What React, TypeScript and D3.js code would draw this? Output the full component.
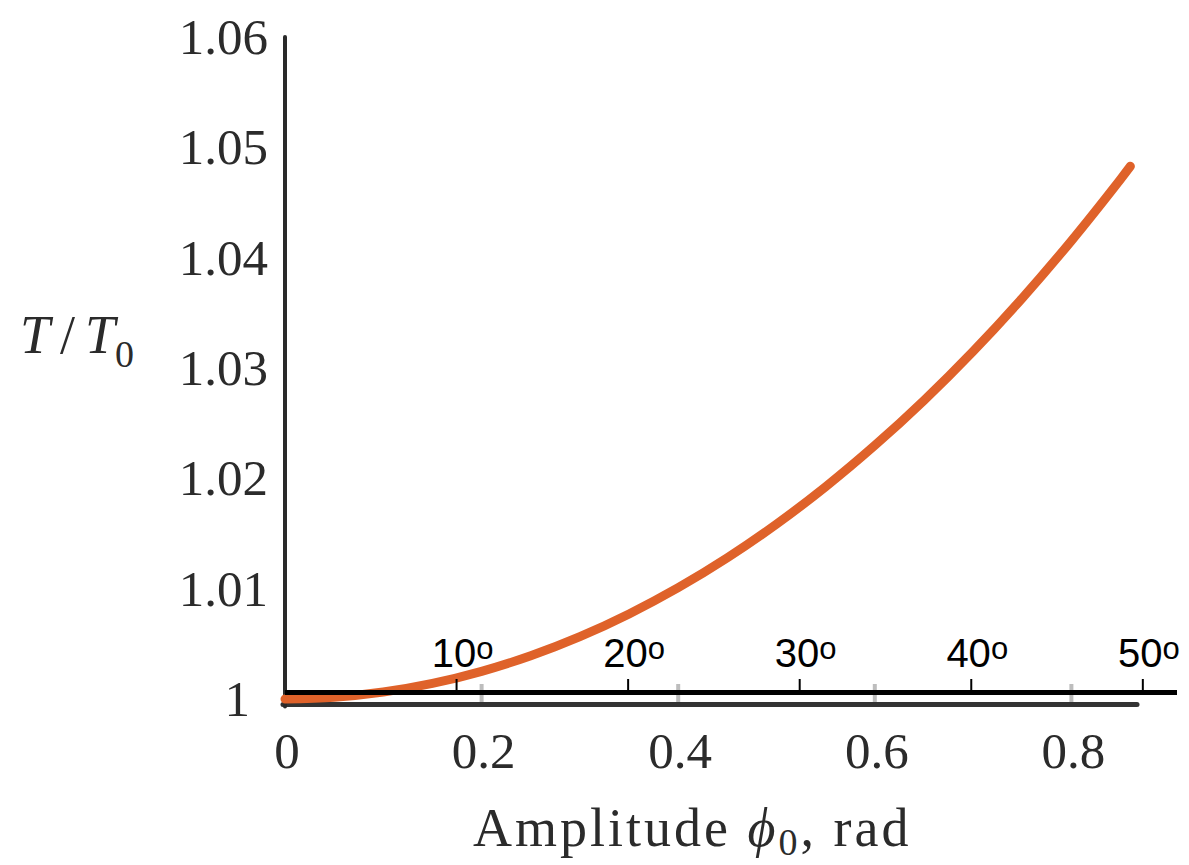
import React from "react";
import * as d3 from "d3";

// amplitude (rad) and period ratio
const amplitude = [0, 0.05, 0.1, 0.15, 0.2, 0.25, 0.3, 0.35, 0.4, 0.45, 0.5, 0.55, 0.6, 0.65, 0.7, 0.75, 0.8, 0.85, 0.86];
const periodRatio = [1.0, 1.00016, 1.00063, 1.00141, 1.00251, 1.00392, 1.00565, 1.00771, 1.01009, 1.0128, 1.01585, 1.01924, 1.02298, 1.02706, 1.03151, 1.03633, 1.04153, 1.04711, 1.04828];

const yTicks = [1, 1.01, 1.02, 1.03, 1.04, 1.05, 1.06];
const xTicks = [0, 0.2, 0.4, 0.6, 0.8];
const degreeTicks = [10, 20, 30, 40, 50];

const W = 1189;
const H = 865;
const serif = "'Liberation Serif', 'Times New Roman', serif";
const sans = "'Liberation Sans', Arial, sans-serif";
const ink = "#2b2b2b";

const App = () => {
    const x = d3.scaleLinear().domain([0, 1]).range([285, 1268]);
    const y = d3.scaleLinear().domain([1, 1.06]).range([699, 37]);

    const points = amplitude.map((a, i) => [a, periodRatio[i]] as [number, number]);
    const line = d3
        .line<[number, number]>()
        .x((d) => x(d[0]))
        .y((d) => y(d[1]))
        .curve(d3.curveCatmullRom.alpha(0.5));

    const degAxisY = 692.5;
    const baseY = 704.5;

    return (
        <svg
            width={W}
            height={H}
            style={{ position: "absolute", left: 0, top: 0, background: "#fff" }}
        >
            {/* light grey ticks on the radian axis */}
            {xTicks
                .filter((t) => t > 0)
                .map((t) => (
                    <line
                        key={"g" + t}
                        x1={x(t)}
                        x2={x(t)}
                        y1={684}
                        y2={baseY}
                        stroke="#bdbdbd"
                        strokeWidth={4}
                    />
                ))}

            {/* bottom radian axis */}
            <line x1={283} x2={1137} y1={baseY} y2={baseY} stroke="#333" strokeWidth={5} strokeLinecap="round" />

            {/* y axis */}
            <line x1={x(0)} x2={x(0)} y1={y(1.06)} y2={baseY + 2} stroke="#2a2a2a" strokeWidth={4} strokeLinecap="round" />

            {/* curve */}
            <path
                d={line(points) || ""}
                fill="none"
                stroke="#df622a"
                strokeWidth={9}
                strokeLinecap="round"
            />

            {/* degree axis */}
            <line x1={x(0)} x2={1177} y1={degAxisY} y2={degAxisY} stroke="#000" strokeWidth={5} />
            {degreeTicks.map((d) => {
                const px = x((d * Math.PI) / 180);
                return (
                    <g key={"d" + d}>
                        <line x1={px} x2={px} y1={679} y2={degAxisY} stroke="#000" strokeWidth={2} />
                        <text
                            x={px + 6}
                            y={667}
                            textAnchor="middle"
                            fontFamily={sans}
                            fontSize={40}
                            fill="#000"
                        >
                            {d}
                            <tspan fontSize={31} dy={-8}>
                                o
                            </tspan>
                        </text>
                    </g>
                );
            })}

            {/* y tick labels */}
            {yTicks.map((t) => (
                <text
                    key={"y" + t}
                    x={t === 1 ? 250 : 268}
                    y={y(t) + 17}
                    textAnchor="end"
                    fontFamily={serif}
                    fontSize={51}
                    fill={ink}
                >
                    {t === 1 ? "1" : t.toFixed(2)}
                </text>
            ))}

            {/* x tick labels */}
            {xTicks.map((t) => (
                <text
                    key={"x" + t}
                    x={x(t) + 2}
                    y={768}
                    textAnchor="middle"
                    fontFamily={serif}
                    fontSize={51}
                    fill={ink}
                >
                    {t === 0 ? "0" : t.toFixed(1)}
                </text>
            ))}

            {/* y axis title */}
            <text x={20} y={353} fontFamily={serif} fontSize={54} fill={ink}>
                <tspan fontStyle="italic">T</tspan>
                <tspan dx={10}>/</tspan>
                <tspan dx={10} fontStyle="italic">T</tspan>
                <tspan fontSize={38} dy={14}>0</tspan>
            </text>

            {/* x axis title */}
            <text x={473} y={846} fontFamily={serif} fontSize={54} fill={ink} letterSpacing={3}>
                Amplitude{" "}
                <tspan fontStyle="italic">ϕ</tspan>
                <tspan fontSize={38} dy={9}>0</tspan>
                <tspan dy={-9}>, rad</tspan>
            </text>
        </svg>
    );
};

export default App;
